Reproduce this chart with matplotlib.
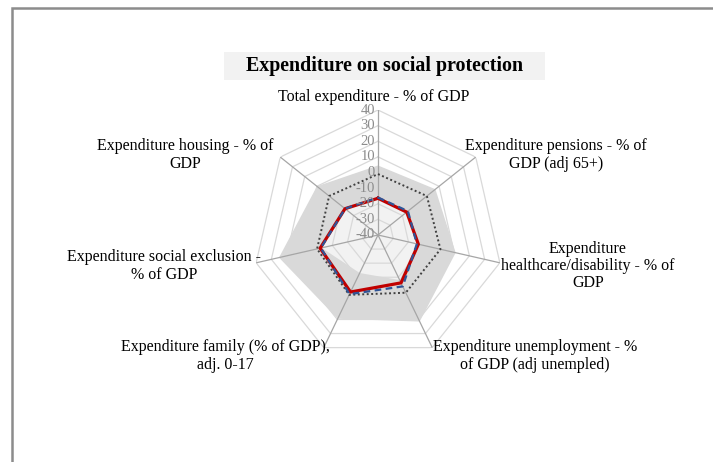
import numpy as np
import matplotlib
matplotlib.use("Agg")
import matplotlib.pyplot as plt
from matplotlib.patches import Rectangle

# indicator labels, clockwise from the top
labels = [
    "Total expenditure - % of GDP",
    "Expenditure pensions - % of\nGDP (adj 65+)",
    "Expenditure\nhealthcare/disability - % of\nGDP",
    "Expenditure unemployment - %\nof GDP (adj unempled)",
    "Expenditure family (% of GDP),\nadj. 0-17",
    "Expenditure social exclusion -\n% of GDP",
    "Expenditure housing - % of\nGDP",
]

# deviation values per indicator
range_max = [4.5, 7, 11, 21.5, 19.5, 25, 10]
range_min = [-17, -17, -14.5, -8, -13, -3, -14]
reference = [-1, 0, 1, 1, 2.5, 0, 0]
group_avg = [-16, -15.5, -14.5, -3.5, 2, -2.5, -13]
country = [-16.5, -16.5, -13.5, -6, 0.5, -2, -13]

ticks = [-40, -30, -20, -10, 0, 10, 20, 30, 40]

W, H = 713, 462
plt.rcParams["font.family"] = ["Liberation Serif", "DejaVu Serif"]

fig = plt.figure(figsize=(W / 100, H / 100), dpi=100)
fig.patch.set_facecolor("white")

# outer chart frame (runs off the right and bottom edges)
fig.patches.append(Rectangle((11.5 / W, -0.1), 1.2, 1.1 - 8.5 / H,
                             transform=fig.transFigure, fill=False,
                             edgecolor="#8c8c8c", linewidth=1.8))

# title box
fig.patches.append(Rectangle((224 / W, 1 - 80 / H), 321 / W, 28 / H,
                             transform=fig.transFigure, facecolor="#f2f2f2",
                             edgecolor="none"))
fig.text(385 / W, 1 - 66 / H, "Expenditure on social protection",
         ha="center", va="center", fontsize=14.4, fontweight="bold")

cx, cy, R = 378, 235, 125
ax = fig.add_axes([(cx - R) / W, (H - cy - R) / H, 2 * R / W, 2 * R / H],
                  projection="polar")
ax.set_theta_offset(np.pi / 2)
ax.set_theta_direction(-1)
ax.set_ylim(-40, 40)
ax.set_facecolor("none")
ax.grid(False)
ax.spines["polar"].set_visible(False)
ax.set_xticks([])
ax.set_yticks([])

n = len(labels)
theta = np.linspace(0, 2 * np.pi, n, endpoint=False)
tc = np.append(theta, theta[0])


def closed(vals):
    return np.append(vals, vals[0])


ax.fill(tc, closed(range_max), color="#d9d9d9", linewidth=0, zorder=1)
ax.fill(tc, closed(range_min), color="#f2f2f2", linewidth=0, zorder=1.1)

# polygon rings and spokes
for t in ticks[1:]:
    ax.plot(tc, [t] * (n + 1), color="#d9d9d9", linewidth=0.9, zorder=1.5)
for th in theta:
    ax.plot([th, th], [-40, 40], color="#a6a6a6", linewidth=0.9, zorder=1.6)

ax.plot(tc, closed(reference), color="#404040", linestyle=(0, (1, 1.3)),
        linewidth=1.4, zorder=3)
ax.plot(tc, closed(country), color="#c00000", linewidth=2.3, zorder=4)
ax.plot(tc, closed(group_avg), color="#2f5597", linestyle=(0, (3, 2)),
        linewidth=1.6, zorder=5)

# value scale along the top spoke
for t in ticks:
    ax.annotate(str(t), xy=(0, t), xytext=(-2, 0), textcoords="offset points",
                ha="right", va="center", fontsize=10.5, color="#8c8c8c",
                zorder=6)

# indicator labels
label_pos = [
    (374, 97), (556, 155), (588, 266), (535, 356),
    (225, 356), (164, 266), (185, 155),
]
for text, (x, y) in zip(labels, label_pos):
    fig.text(x / W, 1 - y / H, text, ha="center", va="center",
             fontsize=11.5, linespacing=1.1)

fig.savefig("out.png", dpi=100)
